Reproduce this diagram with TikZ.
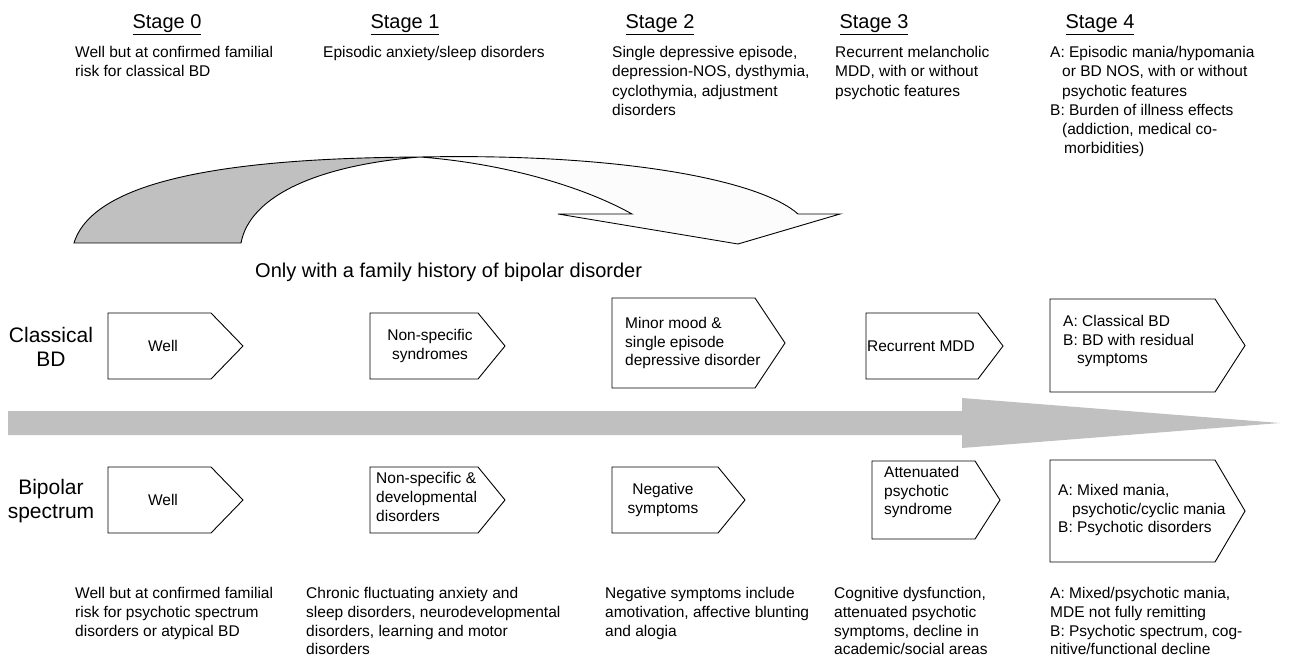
\documentclass[tikz,border=0pt]{standalone}
\usepackage{fontspec}
\setmainfont{Liberation Sans}
\definecolor{arrowgray}{HTML}{C0C0C0}
\definecolor{offwhite}{HTML}{FCFCFC}
\tikzset{
  body/.style={font=\fontsize{15.5}{19.3}\selectfont, align=left, inner sep=0pt, anchor=north west},
  lowbody/.style={body, font=\fontsize{15.5}{18.8}\selectfont},
  head/.style={font=\fontsize{20}{24}\selectfont, inner sep=0pt, anchor=base},
  rowlab/.style={font=\fontsize{21}{24}\selectfont, align=center, inner sep=0pt},
  boxline/.style={draw=black, line width=0.9pt, fill=white, line join=miter},
  boxtext/.style={font=\fontsize{15.5}{18.8}\selectfont, inner sep=0pt},
  leftbox/.style={boxtext, align=left, anchor=west},
  curveline/.style={draw=black, line width=0.9pt},
}
\newcommand\pentabox[5]{\draw[boxline] (#1,#4) -- (#2,#4) -- (#3,{(#4+#5)/2}) -- (#2,#5) -- (#1,#5) -- cycle;}
\begin{document}
\begin{tikzpicture}[x=1pt,y=-1pt]
\useasboundingbox (0,0) rectangle (1289,660);
% headings
\node[head] (h0) at (167,29) {\underline{Stage 0}};
\node[head] (h1) at (405,29) {\underline{Stage 1}};
\node[head] (h2) at (660,29) {\underline{Stage 2}};
\node[head] (h3) at (874,29) {\underline{Stage 3}};
\node[head] (h4) at (1100,29) {\underline{Stage 4}};
% top texts
\node[body] (t0) at (75,46) {Well but at confirmed familial\\risk for classical BD};
\node[body] (t1) at (323,46) {Episodic anxiety/sleep disorders};
\node[body] (t2) at (612,46) {Single depressive episode,\\depression-NOS, dysthymia,\\cyclothymia, adjustment\\disorders};
\node[body] (t3) at (835,46) {Recurrent melancholic\\MDD, with or without\\psychotic features};
\node[body] (t4) at (1050,46) {A: Episodic mania/hypomania\\\hspace*{12pt}or BD NOS, with or without\\\hspace*{12pt}psychotic features\\B: Burden of illness effects\\\hspace*{12pt}(addiction, medical co-\\\hspace*{14pt}morbidities)};
% curved arrow
\filldraw[curveline, fill=arrowgray] (74,243) .. controls (95,175) and (250,158) .. (420,157)
  .. controls (320,165) and (250,195) .. (241,243) -- cycle;
\filldraw[curveline, fill=offwhite] (420,157) .. controls (620,153) and (760,180) .. (798,214)
  -- (840,214) -- (738,244) -- (558,214) -- (632,214)
  .. controls (580,185) and (500,163) .. (420,157) -- cycle;
\node[font=\fontsize{20}{24}\selectfont, inner sep=0pt, anchor=base west] (only) at (255,277) {Only with a family history of bipolar disorder};
% row labels
\node[rowlab] (lc) at (51,347) {Classical\\BD};
\node[rowlab] (lb) at (51,501) {Bipolar\\spectrum};
% big arrow
\fill[arrowgray] (8,411) -- (962,411) -- (962,398) -- (1280,423) -- (962,448) -- (962,435) -- (8,435) -- cycle;
% classical boxes
\pentabox{108}{211}{243}{313}{379}
\node[boxtext] (c0) at (163,346) {Well};
\pentabox{370}{478}{505}{313}{379}
\node[boxtext, align=center] (c1) at (430,346) {Non-specific\\syndromes};
\pentabox{612}{755}{785}{298}{388}
\node[leftbox] (c2) at (625,343) {Minor mood \&\\single episode\\depressive disorder};
\pentabox{866}{978}{1003}{313}{379}
\node[boxtext] (c3) at (921,346) {Recurrent MDD};
\pentabox{1050}{1215}{1245}{299}{392}
\node[leftbox] (c4) at (1063,341) {A: Classical BD\\B: BD with residual\\\hspace*{14pt}symptoms};
% bipolar boxes
\pentabox{108}{211}{243}{467}{533}
\node[boxtext] (b0) at (163,500) {Well};
\pentabox{370}{478}{505}{467}{533}
\node[leftbox] (b1) at (376,497) {Non-specific \&\\developmental\\disorders};
\pentabox{612}{718}{745}{467}{533}
\node[boxtext, align=center] (b2) at (663,500) {Negative\\symptoms};
\pentabox{872}{975}{1000}{461}{539}
\node[leftbox] (b3) at (884,492) {Attenuated\\psychotic\\syndrome};
\pentabox{1050}{1215}{1245}{460}{562}
\node[leftbox] (b4) at (1058,510) {A: Mixed mania,\\\hspace*{14pt}psychotic/cyclic mania\\B: Psychotic disorders};
% bottom texts
\node[lowbody] (d0) at (75,587) {Well but at confirmed familial\\risk for psychotic spectrum\\disorders or atypical BD};
\node[lowbody] (d1) at (306,587) {Chronic fluctuating anxiety and\\sleep disorders, neurodevelopmental\\disorders, learning and motor\\disorders};
\node[lowbody] (d2) at (605,587) {Negative symptoms include\\amotivation, affective blunting\\and alogia};
\node[lowbody] (d3) at (834,587) {Cognitive dysfunction,\\attenuated psychotic\\symptoms, decline in\\academic/social areas};
\node[lowbody] (d4) at (1050,587) {A: Mixed/psychotic mania,\\MDE not fully remitting\\B: Psychotic spectrum, cog-\\nitive/functional decline};
\end{tikzpicture}
\end{document}
